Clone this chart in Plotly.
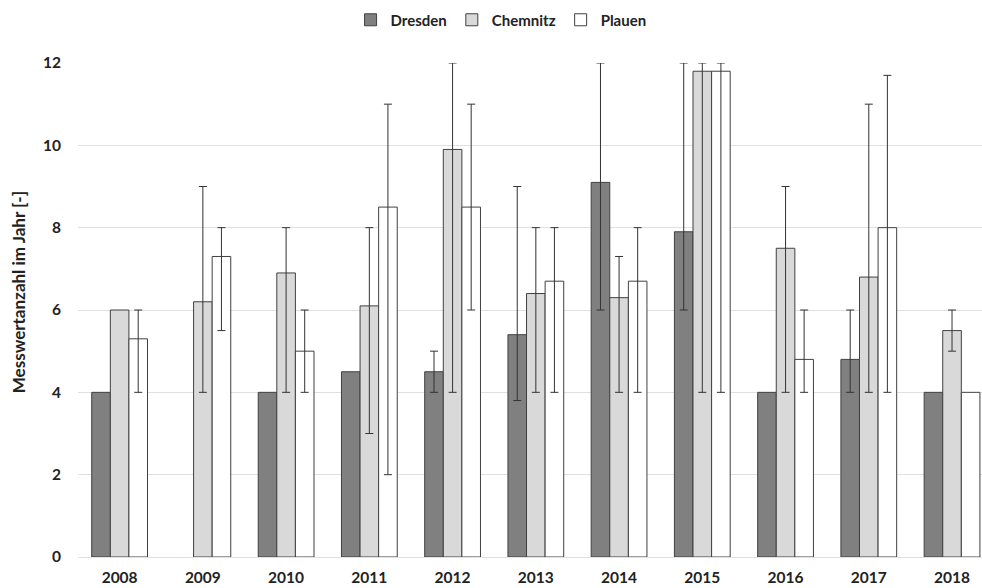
import plotly.graph_objects as go

years = ["2008", "2009", "2010", "2011", "2012", "2013", "2014", "2015", "2016", "2017", "2018"]

dresden = [4, None, 4, 4.5, 4.5, 5.4, 9.1, 7.9, 4, 4.8, 4]
dresden_lo = [None, None, None, None, 4, 3.8, 6, 6, None, 4, None]
dresden_hi = [None, None, None, None, 5, 9, 12, 12, None, 6, None]

chemnitz = [6, 6.2, 6.9, 6.1, 9.9, 6.4, 6.3, 11.8, 7.5, 6.8, 5.5]
chemnitz_lo = [None, 4, 4, 3, 4, 4, 4, 4, 4, 4, 5]
chemnitz_hi = [None, 9, 8, 8, 12, 8, 7.3, 12, 9, 11, 6]

plauen = [5.3, 7.3, 5, 8.5, 8.5, 6.7, 6.7, 11.8, 4.8, 8, 4]
plauen_lo = [4, 5.5, 4, 2, 6, 4, 4, 4, 4, 4, None]
plauen_hi = [6, 8, 6, 11, 11, 8, 8, 12, 6, 11.7, None]

series = [
    ("Dresden", dresden, dresden_lo, dresden_hi, "#808080"),
    ("Chemnitz", chemnitz, chemnitz_lo, chemnitz_hi, "#d9d9d9"),
    ("Plauen", plauen, plauen_lo, plauen_hi, "#ffffff"),
]

fig = go.Figure()
for name, vals, lo, hi, col in series:
    xe, ye, plus, minus = [], [], [], []
    xn, yn = [], []
    for yr, v, l, h in zip(years, vals, lo, hi):
        if v is None:
            continue
        if l is None:
            xn.append(yr)
            yn.append(v)
        else:
            xe.append(yr)
            ye.append(v)
            plus.append(h - v)
            minus.append(v - l)
    marker = dict(color=col, line=dict(color="#404040", width=1))
    fig.add_trace(go.Bar(
        name=name, x=xe, y=ye, offsetgroup=name, legendgroup=name,
        marker=marker,
        error_y=dict(type="data", symmetric=False, array=plus, arrayminus=minus,
                     color="#333333", thickness=1, width=4),
        cliponaxis=False,
    ))
    fig.add_trace(go.Bar(
        name=name, x=xn, y=yn, offsetgroup=name, legendgroup=name,
        marker=marker, showlegend=False, cliponaxis=False,
    ))

font_family = "Lato, 'Open Sans', sans-serif"
fig.update_layout(
    width=982, height=588,
    paper_bgcolor="white", plot_bgcolor="white",
    margin=dict(l=78, r=0, t=63, b=31),
    barmode="group", bargap=0.33, bargroupgap=0,
    font=dict(family=font_family, size=15, color="#222222"),
    legend=dict(orientation="h", x=0.468, xref="paper", xanchor="center",
                y=1.087, yref="paper", yanchor="middle",
                font=dict(family=font_family, size=15, color="#222222", weight="bold"),
                itemwidth=30, traceorder="normal"),
    showlegend=True,
    annotations=[dict(
        text="Messwertanzahl im Jahr [-]", textangle=-90,
        xref="paper", yref="paper", x=-0.0664, y=0.536,
        xanchor="center", yanchor="middle", showarrow=False,
        font=dict(family=font_family, size=17, color="#222222", weight="bold"),
    )],
)
fig.update_xaxes(
    type="category", categoryorder="array", categoryarray=years,
    range=[-0.5, 10.36], automargin=False,
    showgrid=False, showline=False, ticks="",
    ticklabelstandoff=9,
    tickfont=dict(family=font_family, size=15.5, color="#222222", weight="bold"),
)
fig.update_yaxes(
    range=[0, 12], dtick=2, tick0=0, automargin=False,
    showgrid=True, gridcolor="#e0e0e0", gridwidth=1,
    zeroline=True, zerolinecolor="#e0e0e0", zerolinewidth=1,
    showline=False, ticks="",
    ticklabelstandoff=16,
    tickfont=dict(family=font_family, size=15.5, color="#222222", weight="bold"),
)

fig.write_html("out.html", config={"displayModeBar": False},
               post_script="document.body.style.margin='0';")
